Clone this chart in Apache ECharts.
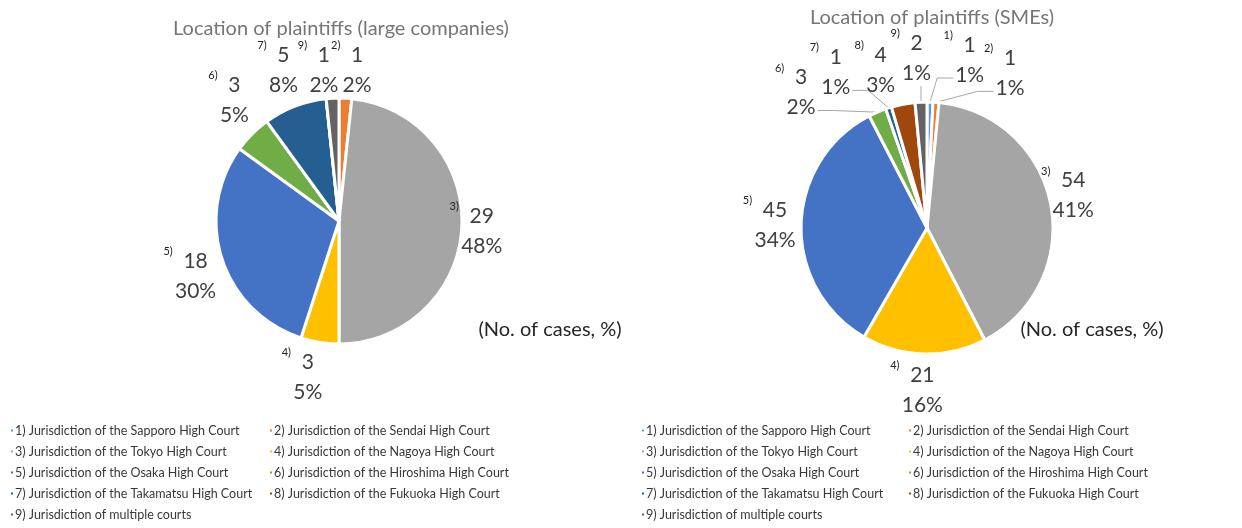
<!DOCTYPE html>
<html><head><meta charset="utf-8">
<script src="https://cdn.jsdelivr.net/npm/echarts@6/dist/echarts.min.js"></script>
<style>html,body{margin:0;padding:0;background:#fff}#c{width:1242px;height:528px}</style>
</head><body><div id="c"></div>
<script>
// ---------- data ----------
const categories = [
  '1) Jurisdiction of the Sapporo High Court',
  '2) Jurisdiction of the Sendai High Court',
  '3) Jurisdiction of the Tokyo High Court',
  '4) Jurisdiction of the Nagoya High Court',
  '5) Jurisdiction of the Osaka High Court',
  '6) Jurisdiction of the Hiroshima High Court',
  '7) Jurisdiction of the Takamatsu High Court',
  '8) Jurisdiction of the Fukuoka High Court',
  '9) Jurisdiction of multiple courts'
];
const largeCounts = [0, 1, 29, 3, 18, 3, 5, 0, 1];
const largePct    = ['0%', '2%', '48%', '5%', '30%', '5%', '8%', '0%', '2%'];
const smeCounts   = [1, 1, 54, 21, 45, 3, 1, 4, 2];
const smePct      = ['1%', '1%', '41%', '16%', '34%', '2%', '1%', '3%', '1%'];
const titles = ['Location of plaintiffs (large companies)', 'Location of plaintiffs (SMEs)'];
const unitNote = '(No. of cases, %)';

// ---------- styles / layout ----------
const colors = ['#5B9BD5', '#ED7D31', '#A5A5A5', '#FFC000', '#4472C4', '#70AD47', '#255E91', '#9E480E', '#636363'];
const FONT = 'Lato, "Open Sans", sans-serif';
const LABEL_SIZE = 21;
const pies = [
  { center: [339, 221], r: 123, labelR: 155,
    nudge: [[0,0],[10,4],[-12,2],[-7,3],[4,7],[5,-11],[0,-6],[0,0],[-7,4]], leader: {} },
  { center: [927, 228], r: 126, labelR: 155,
    nudge: [[39,-13],[72,0],[-6,-3],[-1,7],[3,1],[-65,7],[-44,-8],[-17,-6],[-3,-15]],
    leader: { 0: 'left', 1: 'left', 5: 'right', 6: 'right', 8: 'bottom' } }
];

const measureCtx = document.createElement('canvas').getContext('2d');
function textWidth(t) {
  measureCtx.font = LABEL_SIZE + 'px ' + FONT;
  return measureCtx.measureText(t).width;
}

function labelLayoutFor(p, pct) {
  return function (params) {
    const pts = params.labelLinePoints;
    if (!pts) return {};
    const i = params.dataIndex;
    const a = pts[0].slice();
    const dx = a[0] - p.center[0], dy = a[1] - p.center[1];
    const len = Math.hypot(dx, dy) || 1;
    const x = p.center[0] + dx / len * p.labelR + p.nudge[i][0];
    const y = p.center[1] + dy / len * p.labelR + p.nudge[i][1];
    const out = { x: x, y: y, align: 'center', verticalAlign: 'middle' };
    const side = p.leader[i];
    if (!side) {
      out.labelLinePoints = [a, a.slice(), a.slice()];
    } else {
      const pw = textWidth(pct[i]);
      let end, elbow;
      if (side === 'left') { end = [x - pw / 2 - 2, y + 18]; elbow = [end[0] - 16, end[1]]; }
      else if (side === 'right') { end = [x + pw / 2 + 2, y + 18]; elbow = [end[0] + 16, end[1]]; }
      else { end = [a[0], y + 28]; elbow = end.slice(); }
      out.labelLinePoints = [a, elbow, end];
    }
    return out;
  };
}

function buildSeries(counts, pct, p) {
  return {
    type: 'pie',
    center: p.center,
    radius: p.r,
    startAngle: 90,
    clockwise: true,
    avoidLabelOverlap: false,
    animation: false,
    silent: true,
    emphasis: { disabled: true },
    itemStyle: { borderColor: '#ffffff', borderWidth: 3 },
    label: {
      show: true,
      position: 'outside',
      color: '#404040',
      fontFamily: FONT,
      formatter: function (prm) {
        const i = prm.dataIndex;
        const tag = categories[i].split(' ')[0];
        return '{s|' + tag + '}{v|' + counts[i] + '}{e|}\n{p|' + pct[i] + '}';
      },
      rich: {
        s: { fontSize: 11, fontFamily: FONT, color: '#222', width: 20, align: 'left', verticalAlign: 'top', lineHeight: 14 },
        v: { fontSize: LABEL_SIZE, fontFamily: FONT, color: '#404040', lineHeight: 30 },
        e: { width: 20, lineHeight: 30 },
        p: { fontSize: LABEL_SIZE, fontFamily: FONT, color: '#404040', lineHeight: 30, align: 'center' }
      }
    },
    labelLine: { show: true, length: 10, length2: 8, smooth: false, lineStyle: { color: '#A6A6A6', width: 1 } },
    labelLayout: labelLayoutFor(p, pct),
    data: categories.map(function (name, i) {
      const d = { name: name, value: counts[i], itemStyle: { color: colors[i] } };
      if (!counts[i]) { d.label = { show: false }; d.labelLine = { show: false }; }
      return d;
    })
  };
}

const oddItems = categories.filter(function (_, i) { return i % 2 === 0; });
const evenItems = categories.filter(function (_, i) { return i % 2 === 1; });
function legendAt(left, names) {
  return {
    data: names, left: left, top: 420, orient: 'vertical', padding: 0,
    icon: 'rect', itemWidth: 4, itemHeight: 4, itemGap: 0, selectedMode: false,
    textStyle: { fontFamily: FONT, fontSize: 12.5, color: '#383838', lineHeight: 21, padding: [0, 0, 0, -4] }
  };
}

const chart = echarts.init(document.getElementById('c'), null, { renderer: 'canvas' });
chart.setOption({
  animation: false,
  color: colors,
  legend: [legendAt(9, oddItems), legendAt(268, evenItems), legendAt(640, oddItems), legendAt(907, evenItems)],
  graphic: [
    { type: 'text', x: 341, y: 29, style: { text: titles[0], align: 'center', verticalAlign: 'middle', fill: '#767676', fontSize: 20, fontFamily: FONT } },
    { type: 'text', x: 932, y: 18, style: { text: titles[1], align: 'center', verticalAlign: 'middle', fill: '#767676', fontSize: 20, fontFamily: FONT } },
    { type: 'text', x: 550, y: 330, style: { text: unitNote, align: 'center', verticalAlign: 'middle', fill: '#262626', fontSize: 20, fontFamily: FONT } },
    { type: 'text', x: 1092, y: 330, style: { text: unitNote, align: 'center', verticalAlign: 'middle', fill: '#262626', fontSize: 20, fontFamily: FONT } }
  ],
  series: [buildSeries(largeCounts, largePct, pies[0]), buildSeries(smeCounts, smePct, pies[1])]
});
</script></body></html>
